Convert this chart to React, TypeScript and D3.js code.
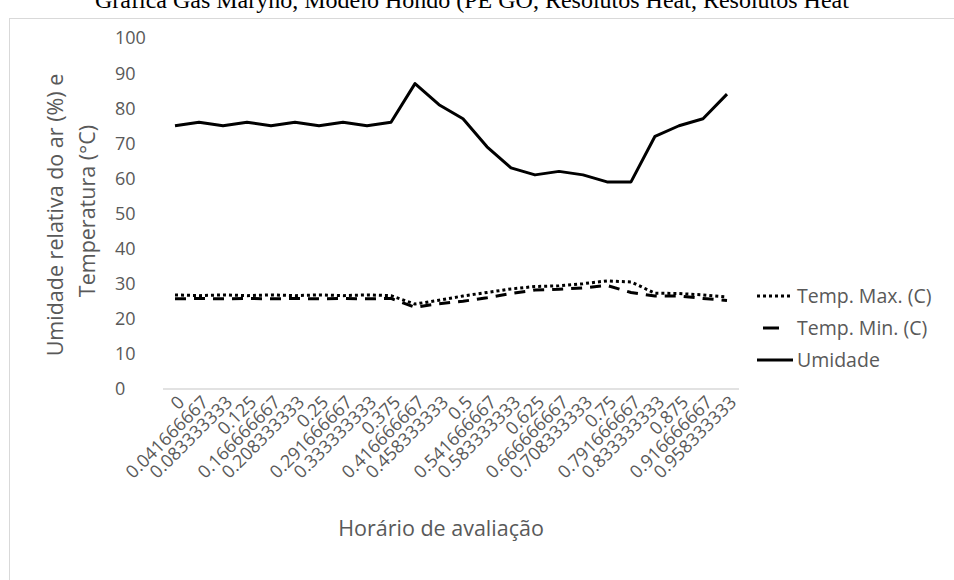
import React from 'react';
import * as d3 from 'd3';

// horário (fração do dia) e leituras
const horarios = [
  '0', '0.041666667', '0.083333333', '0.125', '0.166666667', '0.208333333',
  '0.25', '0.291666667', '0.333333333', '0.375', '0.416666667', '0.458333333',
  '0.5', '0.541666667', '0.583333333', '0.625', '0.666666667', '0.708333333',
  '0.75', '0.791666667', '0.833333333', '0.875', '0.916666667', '0.958333333'
];
const tempMax = [
  26.8, 26.6, 26.8, 26.6, 26.8, 26.6, 26.8, 26.6, 26.8, 26.6, 24.2, 25.3,
  26.5, 27.5, 28.5, 29.2, 29.4, 30.0, 30.8, 30.5, 27.3, 27.2, 26.8, 26.2
];
const tempMin = [
  25.7, 25.8, 25.7, 25.8, 25.7, 25.8, 25.7, 25.8, 25.7, 25.8, 23.3, 24.3,
  25.0, 26.0, 27.2, 28.2, 28.4, 28.8, 29.5, 27.5, 26.5, 26.5, 25.8, 25.2
];
const umidade = [
  75, 76, 75, 76, 75, 76, 75, 76, 75, 76, 87, 81,
  77, 69, 63, 61, 62, 61, 59, 59, 72, 75, 77, 84
];
const yTicks = [0, 10, 20, 30, 40, 50, 60, 70, 80, 90, 100];

const series = [
  { name: 'Temp. Max. (C)', values: tempMax, dash: '3,3' },
  { name: 'Temp. Min. (C)', values: tempMin, dash: '11,8' },
  { name: 'Umidade', values: umidade, dash: null }
];

const FONT = '"Open Sans", "Noto Sans", sans-serif';
const GREY = '#595959';

export default function App() {
  const width = 954, height = 580;
  const x = d3.scaleBand().domain(horarios).range([163, 739]).padding(0);
  const y = d3.scaleLinear().domain([0, 100]).range([389, 38]);
  const cx = (d: string) => x(d)! + x.bandwidth() / 2;

  const line = d3.line<number>()
    .x((_, i) => cx(horarios[i]))
    .y(v => y(v));

  return (
    <svg width={width} height={height}
         style={{ position: 'absolute', left: 0, top: 0, background: '#fff' }}
         fontFamily={FONT}>
      {/* legenda da figura, cortada no topo */}
      <text x={95} y={8} fontFamily='"Liberation Serif", serif' fontSize={24} fill='#000'>
        Gráfica Gás Maryno, Modelo Hondo (PE GO, Resolutos Heat, Resolutos Heat
      </text>
      <rect x={9.5} y={18.5} width={960} height={600} fill='none' stroke='#d9d9d9' />

      {/* eixo y */}
      {yTicks.map(t => (
        <text key={t} x={115} y={y(t)} dy='0.36em' fontSize={18} fill={GREY}>{t}</text>
      ))}
      <text transform='translate(63,215) rotate(-90)' textAnchor='middle' fontSize={21.5} fill={GREY}>
        Umidade relativa do ar (%) e
      </text>
      <text transform='translate(95,211) rotate(-90)' textAnchor='middle' fontSize={21.5} fill={GREY}>
        Temperatura (°C)
      </text>

      {/* eixo x */}
      <line x1={163} x2={739} y1={y(0)} y2={y(0)} stroke='#d9d9d9' strokeWidth={1.3} />
      {horarios.map(h => (
        <text key={h} transform={`translate(${cx(h) + 6},${399}) rotate(-45)`}
              textAnchor='end' dy='0.35em' fontSize={18} fill={GREY}>{h}</text>
      ))}
      <text x={441} y={536} textAnchor='middle' fontSize={21.5} fill={GREY}>Horário de avaliação</text>

      {/* séries */}
      {series.map(s => (
        <path key={s.name} d={line(s.values)!} fill='none' stroke='#000'
              strokeWidth={3} strokeDasharray={s.dash ?? undefined} strokeLinejoin='round' />
      ))}

      {/* legenda */}
      {series.map((s, i) => {
        const ly = 296 + i * 32;
        return (
          <g key={s.name}>
            {s.dash === '11,8'
              ? <line x1={763} x2={779} y1={ly} y2={ly} stroke='#000' strokeWidth={3} />
              : <line x1={757} x2={793} y1={ly} y2={ly} stroke='#000' strokeWidth={3}
                      strokeDasharray={s.dash ?? undefined} />}
            <text x={797} y={ly} dy='0.35em' fontSize={19.5} fill={GREY}>{s.name}</text>
          </g>
        );
      })}
    </svg>
  );
}
